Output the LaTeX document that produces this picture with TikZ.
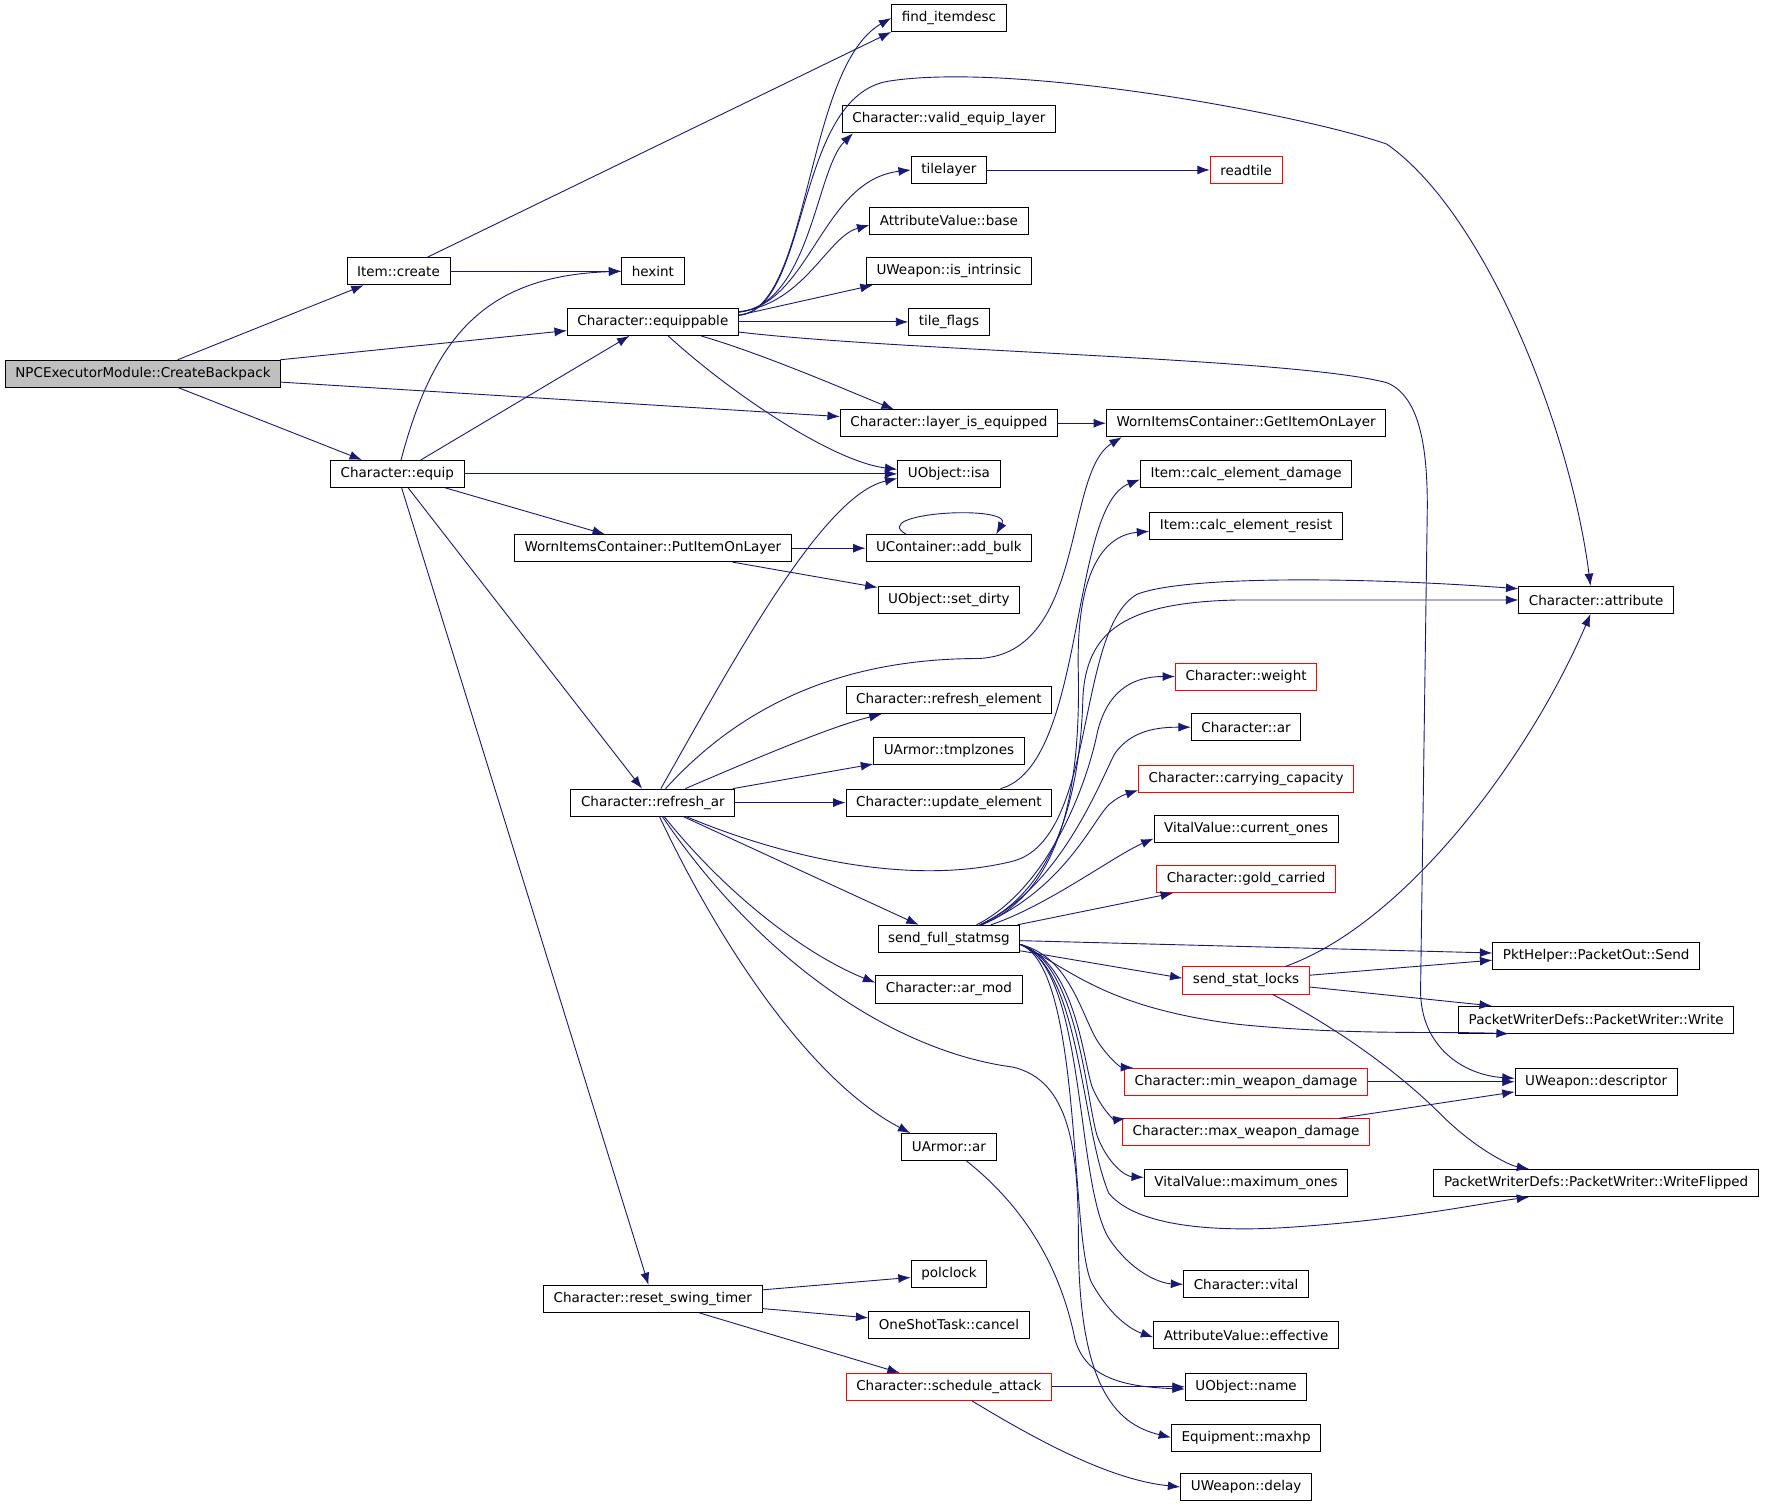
\documentclass[tikz,border=0pt]{standalone}
\usepackage{fontspec}
\newfontfamily\graphfont{DejaVu Sans}
\usetikzlibrary{arrows.meta}
\definecolor{edgeblue}{HTML}{191970}
\definecolor{rootgray}{HTML}{BFBFBF}
\tikzset{
  fn/.style={draw=black,line width=0.8pt,fill=white,inner xsep=9pt,inner ysep=0pt,minimum height=24pt,font=\graphfont\fontsize{12}{14}\selectfont},
  fnred/.style={fn,draw=red},
  call/.style={draw=edgeblue,line width=0.8pt,-{Latex[length=11pt,width=8pt]}}
}
\begin{document}
\begin{tikzpicture}[x=1pt,y=-1pt]
  \useasboundingbox (0,0) rectangle (1568,1339);
  % callers on the left
  \node[fn,fill=rootgray](cbp)at(127,332){NPCExecutorModule::CreateBackpack};
  \node[fn](icreate)at(354,241){Item::create};
  \node[fn](equip)at(353,421){Character::equip};
  \foreach \nm/\y/\txt in {hexint/241/hexint,equippable/286/Character::equippable,putitem/487/WornItemsContainer::PutItemOnLayer,refreshar/713/Character::refresh\_ar,resetswing/1154/Character::reset\_swing\_timer}
    \node[fn](\nm)at(580,\y){\txt};
  % middle column
  \foreach \nm/\y/\st/\txt in {finditem/16/fn/find\_itemdesc,validlayer/106/fn/Character::valid\_equip\_layer,tilelayer/151/fn/tilelayer,avbase/196/fn/AttributeValue::base,intrinsic/241/fn/UWeapon::is\_intrinsic,tileflags/286/fn/tile\_flags,layereq/376/fn/Character::layer\_is\_equipped,isa/421/fn/UObject::isa,addbulk/487/fn/UContainer::add\_bulk,setdirty/533/fn/UObject::set\_dirty,refreshel/622/fn/Character::refresh\_element,tmplzones/667/fn/UArmor::tmplzones,updateel/713/fn/Character::update\_element,fullstat/834/fn/send\_full\_statmsg,armod/879/fn/Character::ar\_mod,uarmorar/1019/fn/UArmor::ar,polclock/1132/fn/polclock,cancel/1177/fn/OneShotTask::cancel,schedule/1232/fnred/Character::schedule\_attack}
    \node[\st](\nm)at(843,\y){\txt};
  % right column
  \foreach \nm/\y/\st/\txt in {readtile/151/fnred/readtile,getitem/376/fn/WornItemsContainer::GetItemOnLayer,calcdmg/421/fn/Item::calc\_element\_damage,calcres/467/fn/Item::calc\_element\_resist,weight/601/fnred/Character::weight,charar/646/fn/Character::ar,carrycap/692/fnred/Character::carrying\_capacity,curones/736/fn/VitalValue::current\_ones,gold/781/fnred/Character::gold\_carried,statlocks/871/fnred/send\_stat\_locks,minwd/961/fnred/Character::min\_weapon\_damage,maxwd/1006/fnred/Character::max\_weapon\_damage,maxones/1051/fn/VitalValue::maximum\_ones,vital/1141/fn/Character::vital,effective/1186/fn/AttributeValue::effective,uname/1232/fn/UObject::name,maxhp/1277/fn/Equipment::maxhp,delay/1321/fn/UWeapon::delay}
    \node[\st](\nm)at(1107,\y){\txt};
  \foreach \nm/\y/\txt in {attribute/533/Character::attribute,pktsend/849/PktHelper::PacketOut::Send,write/906/PacketWriterDefs::PacketWriter::Write,descriptor/961/UWeapon::descriptor,flipped/1051/PacketWriterDefs::PacketWriter::WriteFlipped}
    \node[fn](\nm)at(1418,\y){\txt};

  % CreateBackpack and Item::create
  \draw[call](cbp)--(icreate);
  \draw[call](cbp)--(equippable);
  \draw[call](cbp)--(layereq);
  \draw[call](cbp)--(equip);
  \draw[call](icreate)--(finditem.south west);
  \draw[call](icreate)--(hexint);
  % Character::equip
  \draw[call](equip) .. controls (385,300) and (430,245) .. (hexint.west);
  \draw[call](equip)--(equippable);
  \draw[call](equip)--(isa);
  \draw[call](equip)--(putitem);
  \draw[call](equip)--(refreshar);
  \draw[call](equip)--(resetswing);
  % Character::equippable
  \draw[call](equippable) .. controls (720,275) and (715,60) .. (finditem.west);
  \draw[call](equippable) .. controls (720,275) and (705,85) .. (790,72) .. controls (900,55) and (1150,100) .. (1232,128) .. controls (1320,190) and (1395,380) .. ([xshift=-5pt]attribute.north);
  \draw[call](equippable) .. controls (720,270) and (725,150) .. ([xshift=10pt]validlayer.south west);
  \draw[call](equippable) .. controls (720,270) and (730,160) .. (tilelayer.west);
  \draw[call](equippable) .. controls (715,270) and (735,210) .. ([yshift=-4pt]avbase.west);
  \draw[call]([yshift=6pt]equippable.east)--([xshift=6pt]intrinsic.south west);
  \draw[call](equippable)--(tileflags);
  \draw[call]([yshift=-9pt]equippable.east) .. controls (800,312) and (1150,318) .. (1232,340) .. controls (1262,352) and (1268,400) .. (1268,450) -- (1262,880) .. controls (1262,930) and (1300,955) .. ([yshift=3pt]descriptor.west);
  \draw[call](equippable) .. controls (680,315) and (760,350) .. ([xshift=48pt]layereq.north west);
  \draw[call](equippable) .. controls (650,350) and (740,410) .. ([yshift=4pt]isa.west);
  % small callees
  \draw[call](tilelayer)--(readtile);
  \draw[call](layereq)--(getitem);
  \draw[call](putitem)--(addbulk);
  \draw[call](putitem)--(setdirty);
  \draw[call]([xshift=-38pt]addbulk.north) .. controls (770,455) and (900,448) .. ([xshift=42pt]addbulk.north);
  % Character::refresh_ar
  \draw[call](refreshar) .. controls (650,590) and (730,440) .. ([yshift=-4pt]isa.west);
  \draw[call](refreshar) .. controls (660,625) and (750,585) .. (870,585) .. controls (965,580) and (945,420) .. ([xshift=14pt]getitem.south west);
  \draw[call](refreshar) .. controls (680,670) and (740,645) .. ([xshift=32pt]refreshel.south west);
  \draw[call](refreshar)--(tmplzones);
  \draw[call](refreshar)--(updateel);
  \draw[call](refreshar) .. controls (680,755) and (800,790) .. (900,765) .. controls (975,745) and (955,560) .. (1010,528) .. controls (1050,512) and (1200,512) .. ([yshift=10pt]attribute.west);
  \draw[call](refreshar)--(fullstat);
  \draw[call](refreshar) .. controls (650,800) and (720,850) .. ([yshift=6pt]armod.west);
  \draw[call](refreshar) .. controls (640,840) and (720,960) .. ([xshift=8pt]uarmorar.north west);
  \draw[call](refreshar) .. controls (680,860) and (800,935) .. (900,948) .. controls (950,960) and (958,1020) .. (958,1100) .. controls (958,1230) and (990,1265) .. (maxhp.west);
  \draw[call](updateel) .. controls (965,680) and (950,450) .. ([yshift=-5pt]calcdmg.west);
  \draw[call](uarmorar) .. controls (920,1080) and (945,1140) .. (955,1190) .. controls (965,1225) and (1000,1232) .. ([yshift=-2pt]uname.west);
  % Character::reset_swing_timer
  \draw[call](resetswing)--(polclock);
  \draw[call](resetswing)--(cancel);
  \draw[call](resetswing)--([xshift=48pt]schedule.north west);
  \draw[call](schedule)--(uname);
  \draw[call](schedule) .. controls (930,1285) and (990,1315) .. (delay.west);
  % send_full_statmsg
  \draw[call](fullstat) .. controls (930,790) and (965,700) .. (975,650) .. controls (985,610) and (1010,601) .. (weight.west);
  \draw[call](fullstat) .. controls (940,790) and (975,700) .. (990,670) .. controls (1005,648) and (1030,646) .. (charar.west);
  \draw[call](fullstat) .. controls (945,790) and (970,730) .. (985,715) .. controls (995,706) and (1005,704) .. ([yshift=-10pt]carrycap.west);
  \draw[call](fullstat) .. controls (930,805) and (990,760) .. ([yshift=-9pt]curones.west);
  \draw[call](fullstat)--([xshift=15pt]gold.south west);
  \draw[call](fullstat) .. controls (940,790) and (960,700) .. (962,620) .. controls (965,560) and (1000,535) .. (1100,533) -- (attribute.west);
  \draw[call](fullstat) .. controls (935,795) and (960,720) .. (958,600) .. controls (955,500) and (985,475) .. ([yshift=-5pt]calcres.west);
  \draw[call](fullstat)--(pktsend);
  \draw[call](fullstat)--([yshift=2pt]statlocks.west);
  \draw[call]([yshift=-5pt]fullstat.east) .. controls (950,860) and (980,895) .. (1100,910) .. controls (1200,920) and (1280,916) .. ([xshift=45pt]write.south west);
  \draw[call]([yshift=-5pt]fullstat.east) .. controls (950,850) and (960,900) .. (975,925) .. controls (985,940) and (995,948) .. ([xshift=8pt]minwd.north west);
  \draw[call]([yshift=-5pt]fullstat.east) .. controls (955,855) and (962,940) .. (970,965) .. controls (978,985) and (990,995) .. ([xshift=3pt]maxwd.north west);
  \draw[call]([yshift=-5pt]fullstat.east) .. controls (958,855) and (965,980) .. (975,1010) .. controls (985,1035) and (1000,1045) .. ([yshift=5pt]maxones.west);
  \draw[call]([yshift=-5pt]fullstat.east) .. controls (960,860) and (960,1000) .. (985,1060) .. controls (1010,1090) and (1080,1095) .. (1150,1090) .. controls (1250,1083) and (1310,1070) .. ([xshift=85pt]flipped.south west);
  \draw[call]([yshift=-5pt]fullstat.east) .. controls (965,860) and (955,1050) .. (985,1100) .. controls (1005,1130) and (1030,1140) .. (vital.west);
  \draw[call]([yshift=-5pt]fullstat.east) .. controls (962,860) and (950,1100) .. (970,1140) .. controls (990,1175) and (1010,1183) .. ([yshift=-2pt]effective.west);
  % send_stat_locks and the damage helpers
  \draw[call](statlocks) .. controls (1250,820) and (1360,670) .. ([xshift=-5pt]attribute.south);
  \draw[call](statlocks)--([yshift=-4pt]pktsend.west);
  \draw[call](statlocks)--([xshift=30pt]write.north west);
  \draw[call](statlocks) .. controls (1200,920) and (1250,960) .. (1280,990) .. controls (1310,1020) and (1340,1035) .. ([xshift=85pt]flipped.north west);
  \draw[call](minwd)--(descriptor);
  \draw[call](maxwd)--([yshift=-9pt]descriptor.west);
\end{tikzpicture}
\end{document}
